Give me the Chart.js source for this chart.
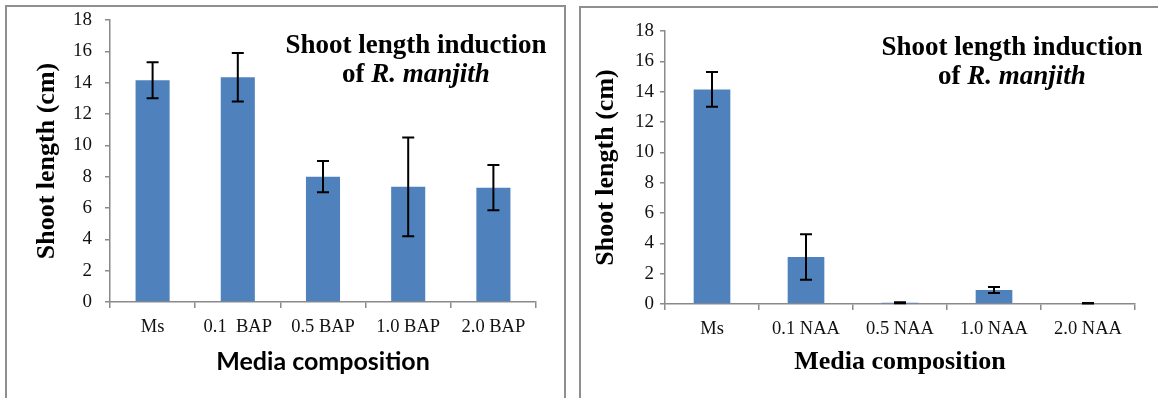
<!DOCTYPE html>
<html>
<head>
<meta charset="utf-8">
<script src="https://cdn.jsdelivr.net/npm/chart.js@4.4.1/dist/chart.umd.min.js"></script>
<style>
  html, body { margin: 0; padding: 0; background: #ffffff; width: 1158px; height: 398px; overflow: hidden; }
  .frame { position: absolute; border: 2px solid #8f8f8f; border-bottom: none; box-sizing: content-box; }
  #frameL { left: 5px; top: 5px; width: 557px; height: 400px; }
  #frameR { left: 579px; top: 6px; width: 600px; height: 400px; border-right: none; }
  canvas { position: absolute; }
  #cL { left: 7px; top: 7px; }
  #cR { left: 581px; top: 8px; }
  .ttl { position: absolute; font-family: "Liberation Serif", "Times New Roman", serif; font-weight: bold;
         font-size: 27px; line-height: 29px; text-align: center; color: #000; width: 320px; white-space: nowrap; }
  #tL { left: 256px; top: 30px; }
  #tR { left: 852px; top: 32px; }
</style>
</head>
<body>
<div class="frame" id="frameL"></div>
<div class="frame" id="frameR"></div>
<canvas id="cL" width="557" height="391"></canvas>
<canvas id="cR" width="577" height="390"></canvas>
<div class="ttl" id="tL">Shoot length induction<br>of <i>R. manjith</i></div>
<div class="ttl" id="tR">Shoot length induction<br>of <i>R. manjith</i></div>
<script>
// ---- data ----
const yTicks = [0, 2, 4, 6, 8, 10, 12, 14, 16, 18];

const bapCategories = ['Ms', '0.1  BAP', '0.5 BAP', '1.0 BAP', '2.0 BAP'];
const bapMeans  = [14.15, 14.35, 8.0, 7.35, 7.3];
const bapErrors = [1.15, 1.55, 1.0, 3.15, 1.45];

const naaCategories = ['Ms', '0.1 NAA', '0.5 NAA', '1.0 NAA', '2.0 NAA'];
const naaMeans  = [14.15, 3.1, 0.08, 0.92, 0.05];
const naaErrors = [1.15, 1.5, 0.03, 0.2, 0.02];

const yTitle = 'Shoot length (cm)';
const xTitle = 'Media composition';

// ---- error bar plugin ----
const errorBars = {
  id: 'errorBars',
  afterDatasetsDraw(chart) {
    const ctx = chart.ctx;
    const y = chart.scales.y;
    chart.data.datasets.forEach((ds, di) => {
      const meta = chart.getDatasetMeta(di);
      if (!ds.errors) return;
      meta.data.forEach((bar, i) => {
        const v = ds.data[i], e = ds.errors[i];
        const yTop = y.getPixelForValue(v + e);
        const yBot = y.getPixelForValue(v - e);
        const x = bar.x;
        const cap = 6;
        ctx.save();
        ctx.strokeStyle = '#000';
        ctx.lineWidth = 2;
        ctx.beginPath();
        ctx.moveTo(x, yTop); ctx.lineTo(x, yBot);
        ctx.moveTo(x - cap, yTop); ctx.lineTo(x + cap, yTop);
        ctx.moveTo(x - cap, yBot); ctx.lineTo(x + cap, yBot);
        ctx.stroke();
        ctx.restore();
      });
    });
  }
};

function makeChart(id, cats, means, errs, cfg) {
  return new Chart(document.getElementById(id), {
    type: 'bar',
    data: {
      labels: cats,
      datasets: [{
        data: means,
        errors: errs,
        backgroundColor: '#4f81bd',
        borderWidth: 0,
        categoryPercentage: 1.0,
        barPercentage: cfg.barPct
      }]
    },
    options: {
      responsive: false,
      animation: false,
      devicePixelRatio: 1,
      layout: { padding: { left: 0, right: cfg.padRight, top: cfg.padTop, bottom: 0 } },
      plugins: { legend: { display: false }, tooltip: { enabled: false }, title: { display: false } },
      scales: {
        x: {
          grid: { display: true, drawOnChartArea: false, drawTicks: true, tickLength: 6, color: '#8a8a8a', lineWidth: 1.5, offset: true },
          border: { display: true, color: '#8a8a8a', width: 1.5 },
          ticks: { color: '#111', font: { family: 'Liberation Serif', size: 18.5 }, padding: cfg.xTickPad, maxRotation: 0, autoSkip: false },
          title: { display: true, text: xTitle, color: '#000', font: cfg.xTitleFont, padding: { top: 0, bottom: cfg.xTitlePad } },
          afterFit(s) { s.height = cfg.xAxisH; s.paddingLeft = 0; s.paddingRight = 0; }
        },
        y: {
          min: 0, max: 18,
          afterBuildTicks(s) { s.ticks = yTicks.map(v => ({ value: v })); },
          grid: { display: true, drawOnChartArea: false, drawTicks: true, tickLength: 5, color: '#8a8a8a', lineWidth: 1.5 },
          border: { display: true, color: '#8a8a8a', width: 1.5 },
          ticks: { color: '#111', font: { family: 'Liberation Serif', size: 19 }, padding: cfg.yTickPad },
          title: { display: true, text: yTitle, color: '#000', font: { family: 'Liberation Serif', size: 26, weight: 'bold' }, padding: { top: cfg.yTitlePad, bottom: 0 } },
          afterFit(s) { s.width = cfg.yAxisW; s.paddingTop = 0; s.paddingBottom = 0; }
        }
      }
    },
    plugins: [errorBars]
  });
}

makeChart('cL', bapCategories, bapMeans, bapErrors, {
  barPct: 0.4, padRight: 28, padTop: 13, xAxisH: 96, yAxisW: 103,
  xTickPad: 8, xTitlePad: 21, yTitlePad: 25, yTickPad: 13,
  xTitleFont: { family: 'Lato', size: 25, weight: 'bold' }
});
makeChart('cR', naaCategories, naaMeans, naaErrors, {
  barPct: 0.39, padRight: 23, padTop: 23, xAxisH: 94, yAxisW: 84,
  xTickPad: 8, xTitlePad: 20, yTitlePad: 10, yTickPad: 6,
  xTitleFont: { family: 'Liberation Serif', size: 26, weight: 'bold' }
});
</script>
</body>
</html>
